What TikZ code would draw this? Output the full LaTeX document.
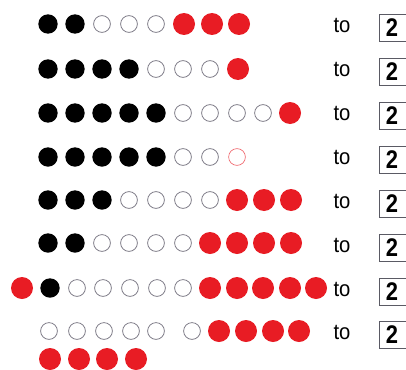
\documentclass[tikz,border=0pt]{standalone}
\usepackage{fontspec}
\setmainfont{Liberation Sans}
\newfontfamily\tofont[FakeStretch=0.92]{Liberation Sans}
\newfontfamily\digitfont[FakeStretch=0.86]{Liberation Sans}
\definecolor{dotred}{RGB}{232,28,36}
\definecolor{ringgray}{RGB}{115,112,125}
\definecolor{boxline}{RGB}{90,90,100}
\tikzset{
  blk/.style={fill=black,draw=none,radius=9.7},
  rd/.style={fill=dotred,draw=none,radius=11},
  opn/.style={draw=ringgray,line width=0.7pt,fill=none,radius=8.4},
  opnred/.style={draw=dotred!70,line width=0.6pt,fill=none,radius=8.4},
  tolabel/.style={font=\tofont\fontsize{22}{22}\selectfont,inner sep=0pt,anchor=center},
  numbox/.style={draw=boxline,line width=0.8pt,minimum width=70pt,minimum height=27pt,anchor=west,inner sep=0pt},
  numtext/.style={font=\digitfont\bfseries\fontsize{25.5}{25.5}\selectfont,inner sep=0pt,anchor=center}
}
\begin{document}
\begin{tikzpicture}[x=1pt,y=-1pt]
\clip (0,0) rectangle (406,369);
\fill[white] (0,0) rectangle (406,369);
\foreach \xx/\st in {48/blk,75/blk,102/opn,129/opn,156/opn,184/rd,212/rd,239/rd} {\path[\st] (\xx,24) circle[];}
\foreach \xx/\st in {48/blk,75/blk,102/blk,129/blk,156/opn,183/opn,210/opn,238/rd} {\path[\st] (\xx,69) circle[];}
\foreach \xx/\st in {48/blk,75/blk,102/blk,129/blk,156/blk,183/opn,210/opn,237/opn,263/opn,290/rd} {\path[\st] (\xx,113) circle[];}
\foreach \xx/\st in {48/blk,75/blk,102/blk,129/blk,156/blk,183/opn,210/opn,237/opnred} {\path[\st] (\xx,157) circle[];}
\foreach \xx/\st in {48/blk,75/blk,102/blk,129/opn,156/opn,183/opn,210/opn,237/rd,264/rd,291/rd} {\path[\st] (\xx,200) circle[];}
\foreach \xx/\st in {48/blk,75/blk,102/opn,129/opn,156/opn,183/opn,210/rd,237/rd,264/rd,291/rd} {\path[\st] (\xx,243) circle[];}
\foreach \xx/\st in {22/rd,50/blk,77/opn,103/opn,130/opn,157/opn,183/opn,210/rd,237/rd,263/rd,290/rd,316/rd} {\path[\st] (\xx,288) circle[];}
\foreach \xx/\st in {49/opn,77/opn,104/opn,131/opn,156/opn,192/opn,219/rd,246/rd,273/rd,299/rd} {\path[\st] (\xx,331) circle[];}
\foreach \xx/\st in {50/rd,79/rd,107/rd,136/rd} {\path[\st] (\xx,359) circle[];}
\foreach \i/\yy in {1/24,2/68,3/112,4/156,5/200,6/244,7/288,8/331} {
  \node[tolabel] (to\i) at (342,\yy+1.5) {to};
  \node[numbox] (box\i) at (378.5,\yy+3.5) {};
  \node[numtext] (n\i) at (392,\yy+4) {2};
}
\end{tikzpicture}
\end{document}
